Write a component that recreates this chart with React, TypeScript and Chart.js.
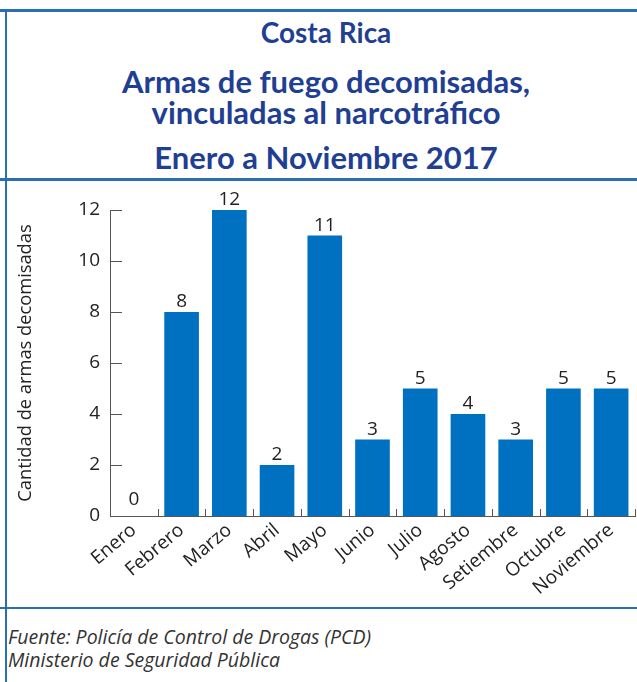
import React, { useEffect, useRef } from "react";
import { Chart, registerables } from "chart.js";

Chart.register(...registerables);

const categories = ["Enero", "Febrero", "Marzo", "Abril", "Mayo", "Junio", "Julio", "Agosto", "Setiembre", "Octubre", "Noviembre"];
const values = [0, 8, 12, 2, 11, 3, 5, 4, 3, 5, 5];
const yTicks = [0, 2, 4, 6, 8, 10, 12];

const titleLines = ["Costa Rica", "Armas de fuego decomisadas,", "vinculadas al narcotráfico", "Enero a Noviembre 2017"];
const sourceLines = ["Fuente: Policía de Control de Drogas (PCD)", "Ministerio de Seguridad Pública"];

const BAR = "#0070C0";
const FRAME = "#2a6fb0";
const TITLE = "#1f3f93";
const AXIS = "#555555";
const FONT = "'Open Sans', sans-serif";

const innerTicks = {
  id: "innerTicks",
  afterDatasetsDraw(chart: any) {
    const { ctx, chartArea, scales } = chart;
    const y = scales.y;
    const x = scales.x;
    ctx.save();
    ctx.strokeStyle = AXIS;
    ctx.lineWidth = 1;
    ctx.beginPath();
    yTicks.forEach((v) => {
      const py = Math.round(y.getPixelForValue(v)) + 0.5;
      ctx.moveTo(chartArea.left, py);
      ctx.lineTo(chartArea.left + 12, py);
    });
    const step = x.getPixelForValue(1) - x.getPixelForValue(0);
    for (let i = 1; i <= categories.length; i++) {
      const px = Math.round(x.getPixelForValue(i - 1) + step / 2) + 0.5;
      ctx.moveTo(px, chartArea.bottom);
      ctx.lineTo(px, chartArea.bottom - 7);
    }
    ctx.stroke();
    const meta = chart.getDatasetMeta(0);
    ctx.fillStyle = "#222";
    ctx.font = `19px ${FONT}`;
    ctx.textAlign = "center";
    ctx.textBaseline = "alphabetic";
    meta.data.forEach((bar: any, i: number) => {
      const gap = values[i] === 0 ? 11 : 5;
      ctx.fillText(String(values[i]), bar.x, bar.y - gap);
    });
    ctx.restore();
  },
};

function ChartBox() {
  const ref = useRef<HTMLCanvasElement>(null);
  useEffect(() => {
    if (!ref.current) return;
    const chart = new Chart(ref.current, {
      type: "bar",
      data: {
        labels: categories,
        datasets: [
          {
            data: values,
            backgroundColor: BAR,
            categoryPercentage: 0.726,
            barPercentage: 1,
          },
        ],
      },
      options: {
        animation: false,
        responsive: false,
        maintainAspectRatio: false,
        layout: { padding: { top: 28, right: 2, left: 0, bottom: 0 } },
        plugins: { legend: { display: false }, tooltip: { enabled: false } },
        scales: {
          x: {
            grid: { display: false, drawTicks: false },
            border: { display: true, color: AXIS, width: 1 },
            ticks: {
              color: "#222",
              font: { family: "'Open Sans', sans-serif", size: 19 },
              maxRotation: 40,
              minRotation: 40,
              padding: 3,
              autoSkip: false,
            },
            afterFit(scale: any) {
              scale.height = 91;
            },
          },
          y: {
            min: 0,
            max: 12,
            grid: { display: false, drawTicks: false },
            border: { display: true, color: AXIS, width: 1 },
            ticks: {
              stepSize: 2,
              color: "#222",
              font: { family: "'Open Sans', sans-serif", size: 19 },
              padding: 10,
            },
            title: {
              display: true,
              text: "Cantidad de armas decomisadas",
              color: "#222",
              font: { family: "'Open Sans', sans-serif", size: 18.3 },
              padding: { top: 15, bottom: 0 },
            },
            afterFit(scale: any) {
              scale.width = 110;
            },
          },
        },
      },
      plugins: [innerTicks],
    });
    return () => chart.destroy();
  }, []);
  return <canvas ref={ref} width={637} height={425} style={{ position: "absolute", left: 0, top: 182, width: 637, height: 425 }} />;
}

export default function App() {
  const titleTops = [14, 62, 93, 138];
  const titleSizes = [28, 31, 31, 31];
  return (
    <div style={{ position: "fixed", left: 0, top: 0, width: 637, height: 682, background: "#fff", overflow: "hidden" }}>
      <div style={{ position: "absolute", left: 0, top: 9, width: 637, height: 3, background: FRAME }} />
      <div style={{ position: "absolute", left: 0, top: 178, width: 637, height: 3, background: FRAME }} />
      <div style={{ position: "absolute", left: 0, top: 607, width: 637, height: 2, background: FRAME }} />
      <div style={{ position: "absolute", left: 5, top: 9, width: 2, height: 673, background: FRAME }} />
      {titleLines.map((t, i) => (
        <div
          key={i}
          style={{
            position: "absolute",
            left: 6,
            width: 640,
            top: titleTops[i],
            textAlign: "center",
            fontFamily: "Lato, sans-serif",
            fontWeight: 700,
            fontSize: titleSizes[i],
            lineHeight: `${titleSizes[i] + 8}px`,
            color: TITLE,
            whiteSpace: "nowrap",
          }}
        >
          {t}
        </div>
      ))}
      <ChartBox />
      {sourceLines.map((t, i) => (
        <div
          key={i}
          style={{
            position: "absolute",
            left: 8,
            top: 625 + i * 23,
            fontFamily: FONT,
            fontStyle: "italic",
            fontSize: 19.5,
            lineHeight: "24px",
            color: "#333",
            whiteSpace: "nowrap",
          }}
        >
          {t}
        </div>
      ))}
    </div>
  );
}
